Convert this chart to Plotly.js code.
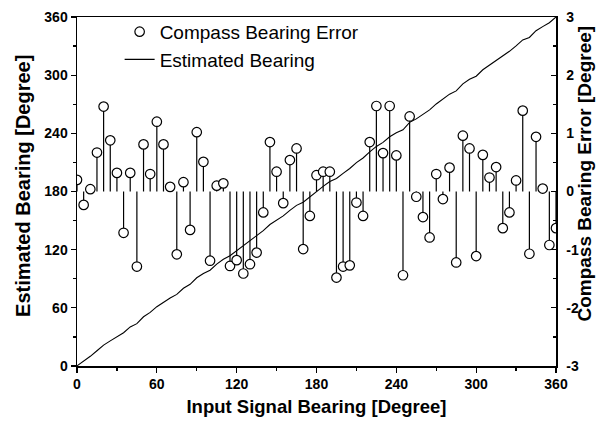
<!DOCTYPE html>
<html>
<head>
<meta charset="utf-8">
<script src="https://cdn.plot.ly/plotly-3.0.1.min.js"></script>
<style>html,body{margin:0;padding:0;background:#fff;}#chart{width:597px;height:428px;}</style>
</head>
<body>
<div id="chart"></div>
<script>
// Input signal bearing (degrees)
const inputBearing = [0,5,10,15,20,25,30,35,40,45,50,55,60,65,70,75,80,85,90,95,100,105,110,115,120,125,130,135,140,145,150,155,160,165,170,175,180,185,190,195,200,205,210,215,220,225,230,235,240,245,250,255,260,265,270,275,280,285,290,295,300,305,310,315,320,325,330,335,340,345,350,355,360];
// Compass bearing error (degrees), read from the stems
const bearingError = [0.20,-0.23,0.04,0.67,1.46,0.88,0.32,-0.71,0.32,-1.29,0.81,0.30,1.20,0.81,0.08,-1.08,0.16,-0.66,1.02,0.51,-1.19,0.10,0.14,-1.28,-1.18,-1.41,-1.25,-1.05,-0.36,0.85,0.34,-0.20,0.54,0.74,-0.99,-0.42,0.28,0.34,0.34,-1.48,-1.29,-1.27,-0.19,-0.42,0.85,1.47,0.66,1.47,0.62,-1.44,1.29,-0.09,-0.44,-0.79,0.30,-0.13,0.41,-1.22,0.96,0.74,-1.11,0.63,0.24,0.42,-0.63,-0.36,0.19,1.39,-1.07,0.94,0.05,-0.92,-0.63];
// Estimated bearing (degrees)
const estimatedBearing = [0.2,4.8,10.0,15.7,21.5,25.9,30.3,34.3,40.3,43.7,50.8,55.3,61.2,65.8,70.1,73.9,80.2,84.3,91.0,95.5,98.8,105.1,110.1,113.7,118.8,123.6,128.8,134.0,139.6,145.9,150.3,154.8,160.5,165.7,169.0,174.6,180.3,185.3,190.3,193.5,198.7,203.7,209.8,214.6,220.9,226.5,230.7,236.5,240.6,243.6,251.3,254.9,259.6,264.2,270.3,274.9,280.4,283.8,291.0,295.7,298.9,305.6,310.2,315.4,319.4,324.6,330.2,336.4,338.9,345.9,350.1,354.1,360.0];

const xTicks = [0,60,120,180,240,300,360];
const yTicks = [0,60,120,180,240,300,360];
const y2Ticks = [-3,-2,-1,0,1,2,3];

// stems built from the data arrays
const stemX = [], stemY = [];
inputBearing.forEach((x, i) => { stemX.push(x, x, null); stemY.push(0, bearingError[i], null); });

const font = "Liberation Sans, Arial, sans-serif";
const tickFont = {family: font, size: 14, weight: 'bold', color: '#000'};
const titleFont = {family: font, size: 18.5, weight: 'bold', color: '#000'};
const yTitleFont = {family: font, size: 20, weight: 'bold', color: '#000'};
const y2TitleFont = {family: font, size: 19, weight: 'bold', color: '#000'};

const traces = [
  {x: inputBearing, y: estimatedBearing, mode: 'lines', name: 'Estimated Bearing',
   line: {color: '#000', width: 1.1}, xaxis: 'x', yaxis: 'y'},
  {x: stemX, y: stemY, mode: 'lines', showlegend: false, hoverinfo: 'skip',
   line: {color: '#000', width: 1.2}, xaxis: 'x', yaxis: 'y2'},
  {x: inputBearing, y: bearingError, mode: 'markers', name: 'Compass Bearing Error',
   marker: {symbol: 'circle', size: 9.5, color: '#fff', line: {color: '#000', width: 1.2}},
   xaxis: 'x', yaxis: 'y2'}
];

const layout = {
  width: 597, height: 428,
  margin: {l: 77, r: 41, t: 17, b: 62},
  paper_bgcolor: '#fff', plot_bgcolor: '#fff',
  font: {family: font, color: '#000', size: 13},
  showlegend: true,
  legend: {x: 0.089, y: 1.012, xanchor: 'left', yanchor: 'top', bgcolor: 'rgba(0,0,0,0)',
           font: {family: font, size: 19, color: '#000'}, traceorder: 'reversed'},
  xaxis: {range: [0, 360], tickvals: xTicks, ticktext: xTicks.map(String), showgrid: false, zeroline: false,
          showline: true, linecolor: '#000', linewidth: 1.5, mirror: true,
          ticks: 'outside', ticklen: 5, tickwidth: 1.2, tickcolor: '#000',
          minor: {dtick: 30, ticks: 'outside', ticklen: 3, tickcolor: '#000'},
          tickfont: tickFont,
          title: {text: 'Input Signal Bearing [Degree]', font: titleFont, standoff: 9}},
  yaxis: {range: [0, 360], tickvals: yTicks, ticktext: yTicks.map(String), showgrid: false, zeroline: false,
          showline: true, linecolor: '#000', linewidth: 1.5,
          ticks: 'outside', ticklen: 5, tickwidth: 1.2, tickcolor: '#000',
          minor: {dtick: 30, ticks: 'outside', ticklen: 3, tickcolor: '#000'},
          tickfont: tickFont},
  yaxis2: {range: [-3, 3], overlaying: 'y', side: 'right', tickvals: y2Ticks, ticktext: y2Ticks.map(String),
           showgrid: false, zeroline: false, showline: true, linecolor: '#000', linewidth: 1.5,
           ticks: 'inside', ticklen: 5, tickwidth: 1.2, tickcolor: '#000', ticklabelstandoff: 6,
           minor: {dtick: 0.5, ticks: 'inside', ticklen: 3, tickcolor: '#000'},
           tickfont: tickFont},
  annotations: [
    {text: 'Estimated Bearing [Degree]', xref: 'paper', yref: 'paper', x: -0.1127, y: 0.516,
     xanchor: 'center', yanchor: 'middle', textangle: -90, showarrow: false, font: yTitleFont},
    {text: 'Compass Bearing Error [Degree]', xref: 'paper', yref: 'paper', x: 1.0595, y: 0.55,
     xanchor: 'center', yanchor: 'middle', textangle: -90, showarrow: false, font: y2TitleFont}
  ]
};

Plotly.newPlot('chart', traces, layout, {displayModeBar: false, staticPlot: true});
</script>
</body>
</html>
